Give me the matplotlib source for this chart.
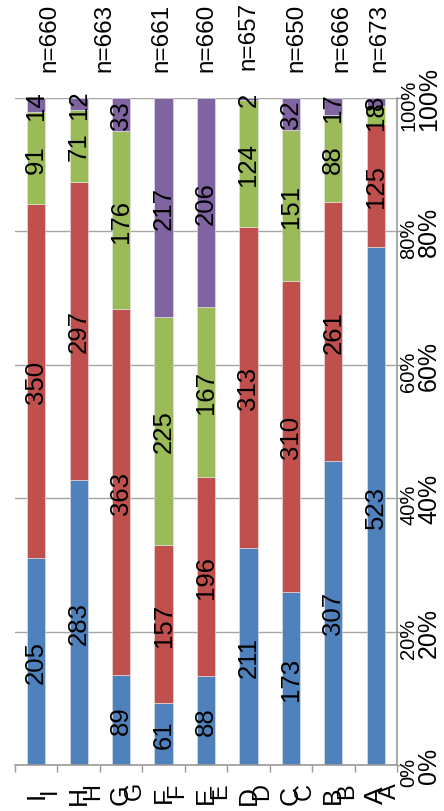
import numpy as np
import matplotlib.pyplot as plt

plt.rcParams['font.family'] = ['Liberation Sans', 'DejaVu Sans']

# Categorías (de izquierda a derecha) y valores de cada segmento
categorias = ['I', 'H', 'G', 'F', 'E', 'D', 'C', 'B', 'A']
azul = [205, 283, 89, 61, 88, 211, 173, 307, 523]
rojo = [350, 297, 363, 157, 196, 313, 310, 261, 125]
verde = [91, 71, 176, 225, 167, 124, 151, 88, 18]
morado = [14, 12, 33, 217, 206, 2, 32, 17, 8]

# Etiquetas n= (tal como aparecen arriba) y su posición horizontal
n_textos = ['n=660', 'n=663', 'n=661', 'n=660', 'n=657', 'n=650', 'n=666', 'n=673']
n_pos_x = [0.31, 1.60, 2.94, 4.02, 5.01, 6.12, 7.18, 8.09]
n_pos_y = [72, 72, 72, 72, 70, 72, 72, 72]  # pixeles desde arriba

ticks_pct = [0, 0.2, 0.4, 0.6, 0.8, 1.0]
ticks_txt = ['0%', '20%', '40%', '60%', '80%', '100%']

series = [azul, rojo, verde, morado]
colores = ['#4F81BD', '#C0504D', '#9BBB59', '#8064A2']

W, H = 444, 812
fig = plt.figure(figsize=(W / 100, H / 100), dpi=100)
x0, x1, y_top, y_bot = 15, 397, 99, 766
ax = fig.add_axes([x0 / W, 1 - y_bot / H, (x1 - x0) / W, (y_bot - y_top) / H])

x = np.arange(len(categorias))
totales = np.sum(np.array(series), axis=0)
base = np.zeros(len(categorias))
for vals, col in zip(series, colores):
    frac = np.array(vals) / totales
    ax.bar(x, frac, width=0.43, bottom=base, color=col,
           edgecolor='#e8e8e8', linewidth=0.4, zorder=2)
    for xi, b, f, v in zip(x, base, frac, vals):
        ax.text(xi, b + f / 2, str(v), rotation=90, ha='center', va='center',
                fontsize=18.5, color='black', zorder=4)
    base = base + frac

ax.set_xlim(-0.5, len(categorias) - 0.5)
ax.set_ylim(0, 1)

# Ejes y cuadrícula
for s in ['left', 'top']:
    ax.spines[s].set_visible(False)
for s in ['right', 'bottom']:
    ax.spines[s].set_color('#9a9a9a')
    ax.spines[s].set_linewidth(1.2)
ax.yaxis.tick_right()
ax.set_yticks(ticks_pct)
ax.set_yticklabels([])
ax.tick_params(axis='y', length=6, color='#9a9a9a', width=1)
ax.grid(axis='y', color='#a6a6a6', linewidth=1, zorder=1)
ax.set_axisbelow(True)

ax.set_xticks(x)
ax.set_xticklabels([])
ax.set_xticks(np.arange(-0.5, len(categorias)), minor=True)
ax.tick_params(axis='x', which='major', length=0)
ax.tick_params(axis='x', which='minor', length=5, color='#9a9a9a', width=1)

# Etiquetas de porcentaje (duplicadas, como en la imagen)
ytr = ax.get_yaxis_transform()
for t, txt in zip(ticks_pct, ticks_txt):
    ax.text(1.031, t - 0.009, txt, transform=ytr, rotation=90, ha='center',
            va='center', fontsize=14.5, clip_on=False)
    ax.text(1.084, t, txt, transform=ytr, rotation=90, ha='center',
            va='center', fontsize=18, clip_on=False)

# Etiquetas de categoría (duplicadas)
xtr = ax.get_xaxis_transform()
for xi, c in zip(x, categorias):
    ax.text(xi, -0.0435, c, transform=xtr, rotation=90, ha='center',
            va='center', fontsize=19, clip_on=False)
    ax.text(xi + 0.33, -0.0375, c, transform=xtr, rotation=90, ha='center',
            va='center', fontsize=17, clip_on=False)

# Etiquetas n=
for px, py, txt in zip(n_pos_x, n_pos_y, n_textos):
    yf = (y_bot - py) / (y_bot - y_top)
    ax.text(px, yf, txt, transform=xtr, rotation=90, ha='center',
            va='bottom', fontsize=17.5, clip_on=False)

fig.savefig('out.png', dpi=100)
